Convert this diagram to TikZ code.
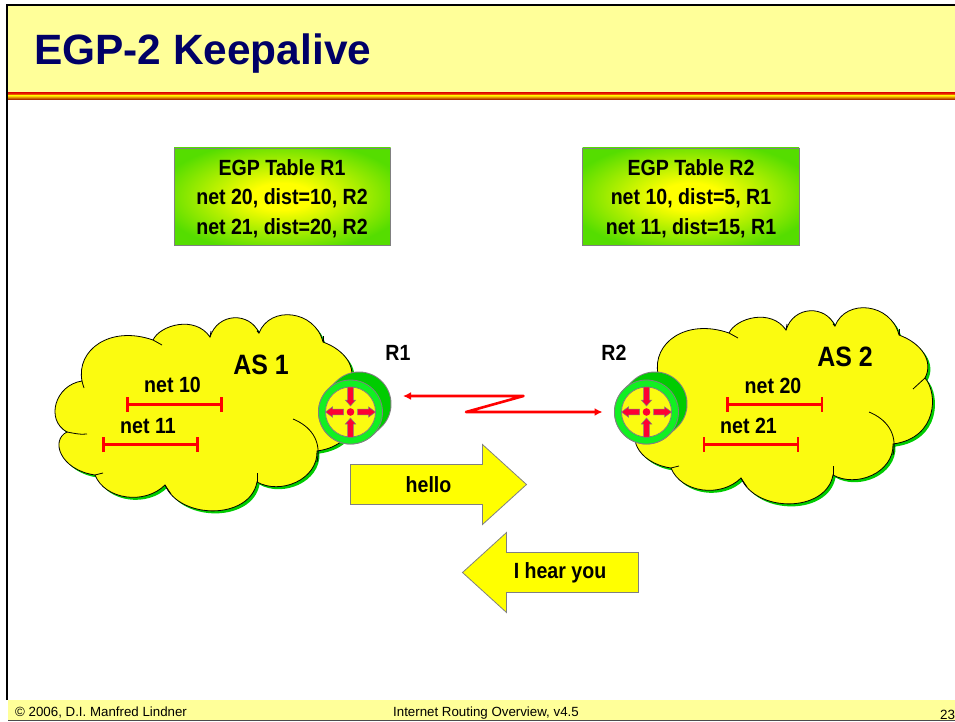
\documentclass[tikz,border=0pt]{standalone}
\usepackage{fontspec}
\usepackage{xcolor}
\usetikzlibrary{arrows.meta}
\usetikzlibrary{calc}
\setmainfont{Liberation Sans}
\newfontfamily\labelfont[FakeStretch=0.89]{Liberation Sans Bold}
\definecolor{headyellow}{HTML}{FFFF99}
\definecolor{titleblue}{HTML}{000066}
\definecolor{cloudyellow}{HTML}{FBFB10}
\definecolor{arrowyellow}{HTML}{FFFF00}
\definecolor{cloudgreen}{HTML}{00CC00}
\definecolor{ringgreen}{HTML}{11F022}
\definecolor{tablegreen}{HTML}{55DD00}
\definecolor{spokered}{HTML}{FF0033}
\definecolor{stripered}{HTML}{E00000}
\definecolor{stripedark}{HTML}{900000}
\definecolor{stripegold}{HTML}{FFD000}
\pgfdeclareradialshading{tableglow}{\pgfpointorigin}{color(0bp)=(arrowyellow);color(7bp)=(arrowyellow);color(29bp)=(tablegreen);color(50bp)=(tablegreen)}
\tikzset{
  cloudshape/.style={fill=cloudyellow,draw=none},
  cloudhook/.style={draw=black,line width=0.8pt},
  tablebox/.style={draw=gray,line width=0.8pt,shading=tableglow},
  tabletext/.style={align=center,font=\labelfont\fontsize{22}{29.3}\selectfont},
  nettext/.style={font=\labelfont\fontsize{22}{25}\selectfont},
  astext/.style={font=\labelfont\fontsize{28}{32}\selectfont},
  footertext/.style={anchor=base west,inner sep=0pt,font=\fontsize{13.3}{15}\selectfont},
  netbar/.style={red,line width=3pt,{Bar[width=15pt,line width=2.5pt]}-{Bar[width=15pt,line width=2.5pt]}},
  blockarrow/.style={fill=arrowyellow,draw=gray,line width=0.8pt,line join=miter},
  linkline/.style={red,line width=2.6pt,line join=round}
}
% outline of one cloud, drawn in px of the left one
\newcommand{\cloudoutline}{
  (82,381) .. controls (76,350) and (110,325) .. (153,340)
  .. controls (160,325) and (195,315) .. (210,337)
  .. controls (218,312) and (250,312) .. (259,333)
  .. controls (270,305) and (315,310) .. (323,342)
  .. controls (345,350) and (358,368) .. (349,385)
  .. controls (362,400) and (362,445) .. (317,451)
  .. controls (318,480) and (280,495) .. (257,482)
  .. controls (250,520) and (180,520) .. (165,485)
  .. controls (145,505) and (105,500) .. (95,475)
  .. controls (60,470) and (50,440) .. (67,432)
  .. controls (45,420) and (55,385) .. (82,381) -- cycle}
\newcommand{\cloudblob}{
  \fill[cloudgreen,shift={(2.5,2.5)}] \cloudoutline;
  \path[cloudshape] \cloudoutline;
  \draw[cloudhook] \cloudoutline;
  \draw[cloudhook] (82,381) .. controls (83,384) and (83,386) .. (84,388);
  \draw[cloudhook] (153,340) -- (162,345);
  \draw[cloudhook] (210,337) -- (211,331);
  \draw[cloudhook] (259,333) -- (257,331);
  \draw[cloudhook] (323,342) -- (323,336);
  \draw[cloudhook] (349,385) -- (337,396);
  \draw[cloudhook] (293,419) .. controls (310,426) and (322,440) .. (317,462);
  \draw[cloudhook] (257,482) -- (257,473);
  \draw[cloudhook] (165,485) -- (171,494);
  \draw[cloudhook] (95,475) -- (103,473);
  \draw[cloudhook] (67,432) .. controls (73,433) and (80,435) .. (87,434);
}
\newcommand{\routericon}[2]{
  \begin{scope}[shift={(#1,#2)}]
    \draw[gray,line width=65pt,line cap=round] (0,0) -- (8.5,-8);
    \draw[cloudgreen,line width=63pt,line cap=round] (0,0) -- (8.5,-8);
    \filldraw[fill=ringgreen,draw=gray,line width=0.8pt] (0,0) circle(32);
    \filldraw[fill=cloudyellow,draw=gray,line width=0.8pt] (0,0) circle(25);
    \foreach \ang/\rtail/\rhead/\rtip in {0/7/18/25,180/7/18/25,90/25/12/6,270/25/12/6}
      \filldraw[fill=spokered,draw=gray,line width=0.5pt,rotate=\ang]
        (\rtail,-2.8) -- (\rhead,-2.8) -- (\rhead,-5.2) -- (\rtip,0) -- (\rhead,5.2) -- (\rhead,2.8) -- (\rtail,2.8) -- cycle;
    \fill[spokered] (0,0) circle(3.8);
  \end{scope}
}
\begin{document}
\begin{tikzpicture}[x=1pt,y=-1pt]
  \useasboundingbox (0,0) rectangle (955,722);

  % slide frame
  \fill[headyellow] (7,5) rectangle (955,93);
  \shade[top color=stripered,bottom color=stripegold] (7,92.5) rectangle (955,96);
  \shade[top color=stripegold,bottom color=stripedark] (7,96) rectangle (955,100);
  \fill[headyellow] (8,700) rectangle (955,720);
  \draw[black!70,line width=1pt] (8,720) -- (955,720);
  \draw[black,line width=2pt] (7,700) -- (7,5) -- (955,5);
  \node[anchor=base west,inner sep=0pt,text=titleblue,font=\bfseries\fontsize{42.4}{46}\selectfont] (title) at (34,65) {EGP-2 Keepalive};
  \node[footertext] (copyright) at (15,716) {© 2006, D.I. Manfred Lindner};
  \node[footertext] (course) at (393,716) {Internet Routing Overview, v4.5};
  \node[footertext,font=\fontsize{13.4}{15}\selectfont] (pageno) at (940,719) {23};

  % tables
  \shade[tablebox] (174,148) rectangle (390.5,245);
  \shade[tablebox] (582.5,148) rectangle (799,245);
  \node[tabletext] (tableone) at (282,198.5) {EGP Table R1\\net 20, dist=10, R2\\net 21, dist=20, R2};
  \node[tabletext] (tabletwo) at (691,198.5) {EGP Table R2\\net 10, dist=5, R1\\net 11, dist=15, R1};

  % clouds
  \cloudblob
  \begin{scope}[shift={(576,-7)}]
    \cloudblob
  \end{scope}
  \routericon{350.5}{412}
  \routericon{646.5}{412}

  \node[astext] (asone) at (261,365) {AS 1};
  \node[astext] (astwo) at (845,357) {AS 2};
  \node[nettext] (netten) at (172.5,385) {net 10};
  \node[nettext] (neteleven) at (148,426) {net 11};
  \node[nettext] (nettwenty) at (773,385.5) {net 20};
  \node[nettext] (nettwentyone) at (748.5,426) {net 21};
  \node[nettext] (rone) at (398,353) {R1};
  \node[nettext] (rtwo) at (614,353) {R2};

  % networks
  \coordinate (tena) at (126,404.5);
  \coordinate (tenb) at (222.5,404.5);
  \coordinate (elevena) at (102,444.5);
  \coordinate (elevenb) at (198.5,444.5);
  \coordinate (twentya) at (726,404.5);
  \coordinate (twentyb) at (823,404.5);
  \coordinate (twentyonea) at (702.5,444.5);
  \coordinate (twentyoneb) at (799,444.5);
  \draw[netbar] (tena) -- (tenb);
  \draw[netbar] (elevena) -- (elevenb);
  \draw[netbar] (twentya) -- (twentyb);
  \draw[netbar] (twentyonea) -- (twentyoneb);

  % serial link
  \coordinate (linkone) at (403,396);
  \coordinate (kinkone) at (523.5,396);
  \coordinate (kinktwo) at (466,412);
  \coordinate (linktwo) at (602.5,412);
  \draw[linkline,{Latex[length=8pt,width=8pt]}-{Latex[length=8pt,width=8pt]}] (linkone) -- (kinkone) -- (kinktwo) -- (linktwo);

  % messages
  \draw[blockarrow] (350.5,464.5) -- (482.5,464.5) -- (482.5,444.5) -- (526.5,484.5) -- (482.5,524.5) -- (482.5,504.5) -- (350.5,504.5) -- cycle;
  \draw[blockarrow] (638.5,552.5) -- (506.5,552.5) -- (506.5,532.5) -- (462.5,572.5) -- (506.5,612.5) -- (506.5,592.5) -- (638.5,592.5) -- cycle;
  \node[nettext] (hello) at (428.5,485) {hello};
  \node[nettext] (hearyou) at (560,573) {I hear you};
\end{tikzpicture}
\end{document}
